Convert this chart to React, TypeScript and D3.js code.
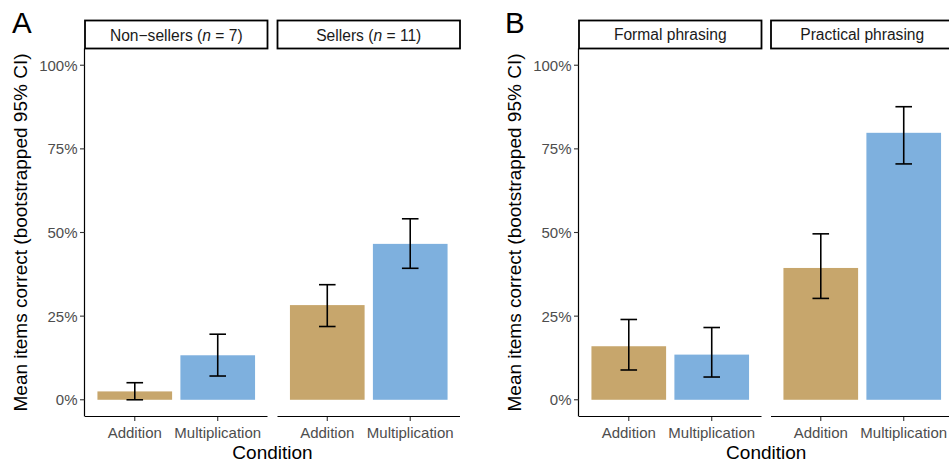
import React from "react";
import * as d3 from "d3";

const conditions = ["Addition", "Multiplication"];
const panelLetters = ["A", "B"];
const facetsA = ["Non\u2212sellers", "Sellers"];
const facetNA = [7, 11];
const facetsB = ["Formal phrasing", "Practical phrasing"];
// means, lower, upper per facet per condition
const meanA = [[0.025, 0.133], [0.283, 0.466]];
const lowA = [[0.0, 0.071], [0.219, 0.393]];
const highA = [[0.051, 0.196], [0.344, 0.541]];
const meanB = [[0.16, 0.135], [0.394, 0.798]];
const lowB = [[0.089, 0.068], [0.303, 0.705]];
const highB = [[0.24, 0.216], [0.496, 0.876]];
const yTicks = [0, 0.25, 0.5, 0.75, 1];

const colors: Record<string, string> = { Addition: "#C7A66C", Multiplication: "#7EB0DE" };
const FONT = "'Liberation Sans', Arial, Helvetica, sans-serif";

const TOP = 48.5;
const BOTTOM = 416.5;
const y = d3.scaleLinear().domain([-0.05, 1.05]).range([BOTTOM, TOP]);

type PanelProps = {
  letter: string;
  letterX: number;
  axisX: number;
  facetStarts: number[];
  facetWidth: number;
  labels: React.ReactNode[];
  mean: number[][];
  low: number[][];
  high: number[][];
  titleX: number;
};

function Panel(p: PanelProps) {
  const fmt = d3.format(".0%");
  return (
    <g>
      <text x={p.letterX} y={33} fontSize={29.5} fontFamily={FONT} fill="#000">
        {p.letter}
      </text>
      <text
        transform={`translate(${p.titleX},${(TOP + BOTTOM) / 2}) rotate(-90)`}
        textAnchor="middle"
        dominantBaseline="central"
        fontSize={19}
        fontFamily={FONT}
        fill="#000"
      >
        Mean items correct (bootstrapped 95% CI)
      </text>
      <line x1={p.axisX} x2={p.axisX} y1={TOP} y2={BOTTOM} stroke="#000" strokeWidth={1.2} />
      {yTicks.map((t) => (
        <g key={t}>
          <line x1={p.axisX - 4.5} x2={p.axisX} y1={y(t)} y2={y(t)} stroke="#333" strokeWidth={1.1} />
          <text
            x={p.axisX - 7}
            y={y(t)}
            textAnchor="end"
            dominantBaseline="central"
            fontSize={15}
            fontFamily={FONT}
            fill="#4D4D4D"
          >
            {fmt(t)}
          </text>
        </g>
      ))}
      {p.facetStarts.map((fx, fi) => {
        // ggplot discrete: positions at 1,2 with limits [0.4, 2.6]
        const xc = d3.scaleLinear().domain([0.4, 2.6]).range([fx, fx + p.facetWidth]);
        const unit = p.facetWidth / 2.2;
        return (
          <g key={fi}>
            <rect
              x={fx}
              y={20.5}
              width={p.facetWidth}
              height={28}
              fill="#fff"
              stroke="#000"
              strokeWidth={1.8}
            />
            <text
              x={fx + p.facetWidth / 2}
              y={34.5}
              textAnchor="middle"
              dominantBaseline="central"
              fontSize={15.6}
              fontFamily={FONT}
              fill="#1A1A1A"
            >
              {p.labels[fi]}
            </text>
            {conditions.map((c, ci) => {
              const cx = xc(ci + 1);
              const bw = unit * 0.9;
              const m = p.mean[fi][ci];
              return (
                <g key={c}>
                  <rect x={cx - bw / 2} y={y(m)} width={bw} height={y(0) - y(m)} fill={colors[c]} />
                  <line x1={cx} x2={cx} y1={y(p.low[fi][ci])} y2={y(p.high[fi][ci])} stroke="#000" strokeWidth={1.6} />
                  <line x1={cx - unit * 0.1} x2={cx + unit * 0.1} y1={y(p.low[fi][ci])} y2={y(p.low[fi][ci])} stroke="#000" strokeWidth={1.6} />
                  <line x1={cx - unit * 0.1} x2={cx + unit * 0.1} y1={y(p.high[fi][ci])} y2={y(p.high[fi][ci])} stroke="#000" strokeWidth={1.6} />
                  <line x1={cx} x2={cx} y1={BOTTOM} y2={BOTTOM + 4.5} stroke="#333" strokeWidth={1.1} />
                  <text
                    x={cx}
                    y={432}
                    textAnchor="middle"
                    dominantBaseline="central"
                    fontSize={15}
                    fontFamily={FONT}
                    fill="#4D4D4D"
                  >
                    {c}
                  </text>
                </g>
              );
            })}
            <line x1={fx} x2={fx + p.facetWidth} y1={BOTTOM} y2={BOTTOM} stroke="#000" strokeWidth={1.2} />
          </g>
        );
      })}
      <text
        x={(p.facetStarts[0] + p.facetStarts[1] + p.facetWidth) / 2}
        y={452}
        textAnchor="middle"
        dominantBaseline="central"
        fontSize={19}
        fontFamily={FONT}
        fill="#000"
      >
        Condition
      </text>
    </g>
  );
}

export default function App() {
  const labelsA = facetsA.map((f, i) => (
    <tspan key={i}>
      {f} (<tspan fontStyle="italic">n</tspan> = {facetNA[i]})
    </tspan>
  ));
  return (
    <svg
      width={949}
      height={461}
      style={{ position: "absolute", left: 0, top: 0, background: "#fff" }}
    >
      <rect width={949} height={461} fill="#fff" />
      <Panel
        letter={panelLetters[0]}
        letterX={12}
        axisX={84.5}
        facetStarts={[85, 277.5]}
        facetWidth={182.5}
        labels={labelsA}
        mean={meanA}
        low={lowA}
        high={highA}
        titleX={20}
      />
      <Panel
        letter={panelLetters[1]}
        letterX={505}
        axisX={578.5}
        facetStarts={[579, 771]}
        facetWidth={182.5}
        labels={facetsB}
        mean={meanB}
        low={lowB}
        high={highB}
        titleX={514}
      />
    </svg>
  );
}
